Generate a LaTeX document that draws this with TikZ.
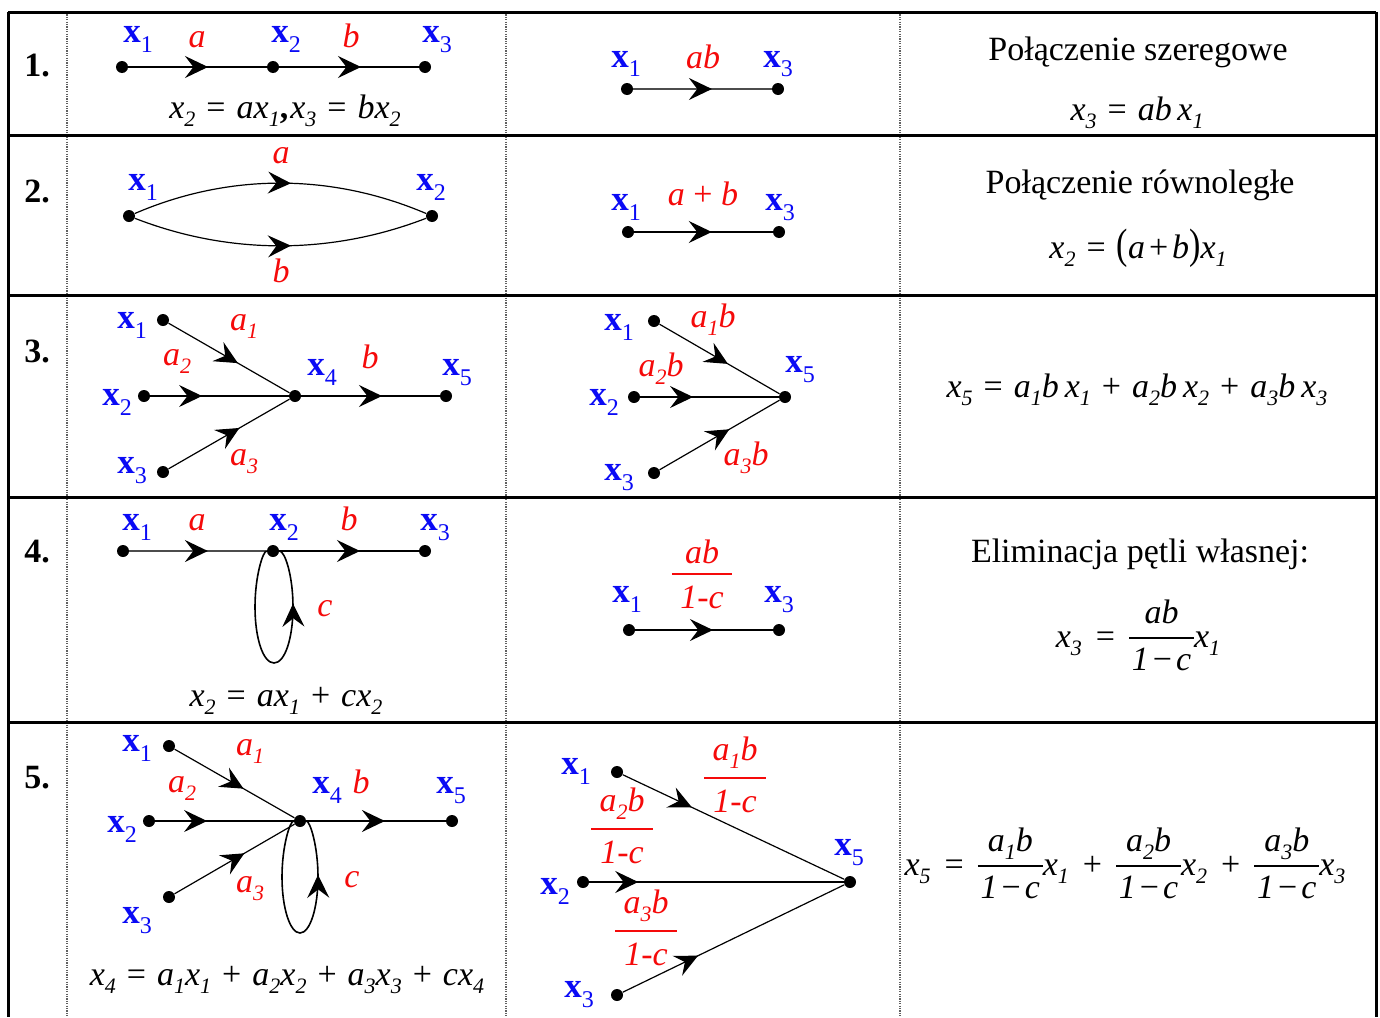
\documentclass[tikz,border=0pt]{standalone}
\usepackage{fontspec}
\setmainfont{Liberation Serif}
\usepackage{graphicx}
\usetikzlibrary{arrows.meta,decorations.markings}
\definecolor{lblue}{RGB}{10,10,245}
\definecolor{lred}{RGB}{245,10,10}
\newcommand{\isub}[1]{\raisebox{-4pt}{\fontsize{11}{11}\selectfont\itshape #1}}
\newcommand{\lsub}[1]{\raisebox{-5pt}{\fontsize{12}{12}\selectfont\mdseries\upshape #1}}
\newcommand{\xl}[1]{\textbf{x}\lsub{#1}}
\newcommand{\mv}[2]{\textit{#1}\isub{#2}}
\newcommand{\ifr}[5]{\rlap{\raisebox{#2}{\makebox[#1]{#4}}}\rlap{\rule{#1}{1pt}}\raisebox{-#3}{\makebox[#1]{#5}}}
\newcommand{\mmin}{\hspace{2pt}−\hspace{2pt}}
\newcommand{\bfr}[2]{\raisebox{4pt}{\ifr{32.5pt}{8pt}{15.5pt}{#1}{#2}}}
\newcommand{\sop}[1]{\hspace{5.5pt}#1\hspace{5.5pt}}
\newcommand{\lop}[1]{\hspace{7pt}#1\hspace{7pt}}
\begin{document}
\begin{tikzpicture}[x=0.5pt,y=-0.5pt,
 vdot/.style={circle,fill=black,inner sep=0pt,minimum size=6pt},
 xlab/.style={text=lblue,inner sep=0pt,anchor=base,font=\fontsize{17.5}{20}\selectfont},
 rlab/.style={text=lred,inner sep=0pt,anchor=base,font=\fontsize{17}{20}\selectfont\itshape},
 txt/.style={inner sep=0pt,anchor=base,font=\fontsize{17}{20}\selectfont},
 rnum/.style={inner sep=0pt,anchor=base,font=\fontsize{17}{20}\selectfont\bfseries},
 ln/.style={line width=0.6pt},
 arr/.style={postaction={decorate,decoration={markings,mark=at position #1 with {\arrow[black]{Stealth[length=11.5pt,width=11pt,inset=4.2pt]}}}}},
 tline/.style={line width=1.5pt},
 dline/.style={line width=1.2pt,draw=gray!75!black,dash pattern=on 0.6pt off 0.6pt}]
\useasboundingbox (0,0) rectangle (1380,1017);
\fill[white] (0,0) rectangle (1380,1017);
% table
\draw[dline] (67,12) -- (67,1017);
\draw[dline] (506,12) -- (506,1017);
\draw[dline] (900,12) -- (900,1017);
\draw[tline] (8,12) -- (8,1017);
\draw[tline] (1376,12) -- (1376,1017);
\foreach \yy in {12,135,295,497,722} \draw[tline] (8,\yy) -- (1376,\yy);
% row numbers
\node[rnum] (r1) at (37,76) {1.};
\node[rnum] (r2) at (37,202) {2.};
\node[rnum] (r3) at (37,362) {3.};
\node[rnum] (r4) at (37,562) {4.};
\node[rnum] (r5) at (37,788) {5.};
% ---------- row 1
\node[vdot] (a1) at (122,67) {};
\node[vdot] (a2) at (273,67) {};
\node[vdot] (a3) at (425,67) {};
\draw[ln,arr=0.576] (a1) -- (a2);
\draw[ln,arr=0.586] (a2) -- (a3);
\node[xlab] (la1) at (138,42) {\xl{1}};
\node[rlab] (laa) at (197,47) {a};
\node[xlab] (la2) at (286,42) {\xl{2}};
\node[rlab] (lab) at (351,47) {b};
\node[xlab] (la3) at (437,42) {\xl{3}};
\node[txt] (eqa) at (285,118) {\mv{x}{2}\sop{=}\textit{a}\mv{x}{1}\textbf{,}\hspace{1pt}\mv{x}{3}\sop{=}\textit{b}\mv{x}{2}};
\node[vdot] (b1) at (627,89) {};
\node[vdot] (b3) at (778,89) {};
\draw[ln,line width=0.8pt,draw=gray!60!black,arr=0.568] (b1) -- (b3);
\node[xlab] (lb1) at (626,67) {\xl{1}};
\node[rlab] (lbab) at (703,68) {ab};
\node[xlab] (lb3) at (778,67) {\xl{3}};
\node[txt] (ta) at (1138,60) {Połączenie szeregowe};
\node[txt] (tae) at (1137,120) {\mv{x}{3}\sop{=}\textit{ab}\,\mv{x}{1}};
% ---------- row 2
\node[vdot] (c1) at (129,216) {};
\node[vdot] (c2) at (432,216) {};
\draw[ln,arr=0.535] (c1) .. controls (229,173) and (331,173) .. (c2);
\draw[ln,arr=0.535] (c1) .. controls (229,255) and (331,255) .. (c2);
\node[xlab] (lc1) at (143,190) {\xl{1}};
\node[xlab] (lc2) at (431,190) {\xl{2}};
\node[rlab] (lca) at (281,163) {a};
\node[rlab] (lcb) at (281,282) {b};
\node[vdot] (d1) at (628,232) {};
\node[vdot] (d3) at (779,232) {};
\draw[ln,arr=0.56] (d1) -- (d3);
\node[xlab] (ld1) at (626,210) {\xl{1}};
\node[rlab] (ldab) at (703,205) {a \textup{+} b};
\node[xlab] (ld3) at (780,210) {\xl{3}};
\node[txt] (tb) at (1140,193) {Połączenie równoległe};
\node[txt] (tbe) at (1138,258) {\mv{x}{2}\sop{=}\scalebox{1}[1.25]{(}\textit{a}\hspace{2pt}+\hspace{2pt}\textit{b}\scalebox{1}[1.25]{)}\mv{x}{1}};
% ---------- row 3
\node[vdot] (e1) at (163,320) {};
\node[vdot] (e2) at (144,396) {};
\node[vdot] (e3) at (163,472) {};
\node[vdot] (e4) at (295,396) {};
\node[vdot] (e5) at (446,396) {};
\draw[ln,arr=0.574] (e1) -- (e4);
\draw[ln,arr=0.374] (e2) -- (e4);
\draw[ln,arr=0.587] (e3) -- (e4);
\draw[ln,arr=0.583] (e4) -- (e5);
\node[xlab] (le1) at (132,328) {\xl{1}};
\node[rlab] (lea1) at (244,330) {a\isub{1}};
\node[rlab] (lea2) at (177,365) {a\isub{2}};
\node[xlab] (le2) at (117,405) {\xl{2}};
\node[xlab] (le3) at (132,473) {\xl{3}};
\node[rlab] (lea3) at (244,465) {a\isub{3}};
\node[xlab] (le4) at (322,375) {\xl{4}};
\node[rlab] (leb) at (370,368) {b};
\node[xlab] (le5) at (457,375) {\xl{5}};
\node[vdot] (f1) at (654,321) {};
\node[vdot] (f2) at (634,397) {};
\node[vdot] (f3) at (654,473) {};
\node[vdot] (f5) at (785,397) {};
\draw[ln,arr=0.571] (f1) -- (f5);
\draw[ln,arr=0.381] (f2) -- (f5);
\draw[ln,arr=0.583] (f3) -- (f5);
\node[xlab] (lf1) at (619,330) {\xl{1}};
\node[rlab] (lfa1) at (713,327) {a\isub{1}b};
\node[rlab] (lfa2) at (661,376) {a\isub{2}b};
\node[xlab] (lf2) at (604,405) {\xl{2}};
\node[xlab] (lf3) at (619,480) {\xl{3}};
\node[rlab] (lfa3) at (746,465) {a\isub{3}b};
\node[xlab] (lf5) at (800,372) {\xl{5}};
\node[txt] (tce) at (1137,397) {\mv{x}{5}\sop{=}\textit{a}\isub{1}\textit{b}\hspace{3pt}\mv{x}{1}\sop{+}\textit{a}\isub{2}\textit{b}\hspace{3pt}\mv{x}{2}\sop{+}\textit{a}\isub{3}\textit{b}\hspace{3pt}\mv{x}{3}};
% ---------- row 4
\node[vdot] (g1) at (123,551) {};
\node[vdot] (g2) at (273,551) {};
\node[vdot] (g3) at (425,551) {};
\draw[ln,line width=0.8pt,draw=gray!60!black,arr=0.572] (g1) -- (g2);
\draw[ln,line width=1pt,arr=0.579] (g2) -- (g3);
\draw[ln,line width=0.8pt,arr=-28pt] (g2) .. controls (263,551) and (255,576) .. (255,607)
  .. controls (255,638) and (263,663) .. (274,663)
  .. controls (285,663) and (293,638) .. (293,607)
  .. controls (293,576) and (285,551) .. (g2);
\node[xlab] (lg1) at (137,530) {\xl{1}};
\node[rlab] (lga) at (197,530) {a};
\node[xlab] (lg2) at (284,530) {\xl{2}};
\node[rlab] (lgb) at (349,530) {b};
\node[xlab] (lg3) at (435,530) {\xl{3}};
\node[rlab] (lgc) at (325,616) {c};
\node[txt] (eqg) at (286,706) {\mv{x}{2}\sop{=}\textit{a}\mv{x}{1}\sop{+}\textit{c}\mv{x}{2}};
\node[vdot] (h1) at (629,630) {};
\node[vdot] (h3) at (779,630) {};
\draw[ln,arr=0.565] (h1) -- (h3);
\node[xlab] (lh1) at (627,602) {\xl{1}};
\node[xlab] (lh3) at (779,602) {\xl{3}};
\node[rlab] (lhf) at (702,575) {\ifr{30pt}{6pt}{16.5pt}{ab}{1-c}};
\node[txt] (td) at (1140,562) {Eliminacja pętli własnej:};
\node[txt] (tde) at (1138,647) {\mv{x}{3}\lop{=}\bfr{\textit{ab}}{\textit{1}\mmin\textit{c}}\mv{x}{1}};
% ---------- row 5
\node[vdot] (k1) at (169,746) {};
\node[vdot] (k2) at (149,821) {};
\node[vdot] (k3) at (169,897) {};
\node[vdot] (k4) at (300,821) {};
\node[vdot] (k5) at (452,821) {};
\draw[ln,arr=0.576] (k1) -- (k4);
\draw[ln,arr=0.374] (k2) -- (k4);
\draw[ln,arr=0.583] (k3) -- (k4);
\draw[ln,line width=1pt,arr=0.564] (k4) -- (k5);
\draw[ln,line width=0.8pt,arr=-28pt] (k4) .. controls (290,821) and (282,846) .. (282,877)
  .. controls (282,908) and (290,933) .. (300,933)
  .. controls (310,933) and (318,908) .. (318,877)
  .. controls (318,846) and (310,821) .. (k4);
\node[xlab] (lk1) at (137,751) {\xl{1}};
\node[rlab] (lka1) at (250,755) {a\isub{1}};
\node[rlab] (lka2) at (182,792) {a\isub{2}};
\node[xlab] (lk2) at (122,832) {\xl{2}};
\node[xlab] (lk3) at (137,923) {\xl{3}};
\node[rlab] (lka3) at (250,892) {a\isub{3}};
\node[xlab] (lk4) at (327,793) {\xl{4}};
\node[rlab] (lkb) at (361,793) {b};
\node[xlab] (lk5) at (451,793) {\xl{5}};
\node[rlab] (lkc) at (352,887) {c};
\node[txt] (eqk) at (287,985) {\mv{x}{4}\sop{=}\textit{a}\isub{1}\mv{x}{1}\sop{+}\textit{a}\isub{2}\mv{x}{2}\sop{+}\textit{a}\isub{3}\mv{x}{3}\sop{+}\textit{c}\mv{x}{4}};
\node[vdot] (m1) at (617,772) {};
\node[vdot] (m2) at (583,882) {};
\node[vdot] (m3) at (617,995) {};
\node[vdot] (m5) at (850,882) {};
\draw[ln,arr=0.312] (m1) -- (m5);
\draw[ln,arr=0.192] (m2) -- (m5);
\draw[ln,arr=0.34] (m3) -- (m5);
\node[xlab] (lm1) at (576,774) {\xl{1}};
\node[xlab] (lm2) at (555,894) {\xl{2}};
\node[xlab] (lm3) at (579,997) {\xl{3}};
\node[xlab] (lm5) at (849,855) {\xl{5}};
\node[rlab] (lmf1) at (735,779) {\ifr{31pt}{9.5pt}{16.5pt}{a\isub{1}b}{1-c}};
\node[rlab] (lmf2) at (622,830) {\ifr{31pt}{9.5pt}{16.5pt}{a\isub{2}b}{1-c}};
\node[rlab] (lmf3) at (646,932) {\ifr{31pt}{9.5pt}{16.5pt}{a\isub{3}b}{1-c}};
\node[txt] (tee) at (1125,875) {\mv{x}{5}\lop{=}\bfr{\textit{a}\isub{1}\textit{b}}{\textit{1}\mmin\textit{c}}\mv{x}{1}\lop{+}\bfr{\textit{a}\isub{2}\textit{b}}{\textit{1}\mmin\textit{c}}\mv{x}{2}\lop{+}\bfr{\textit{a}\isub{3}\textit{b}}{\textit{1}\mmin\textit{c}}\mv{x}{3}};
\end{tikzpicture}
\end{document}
